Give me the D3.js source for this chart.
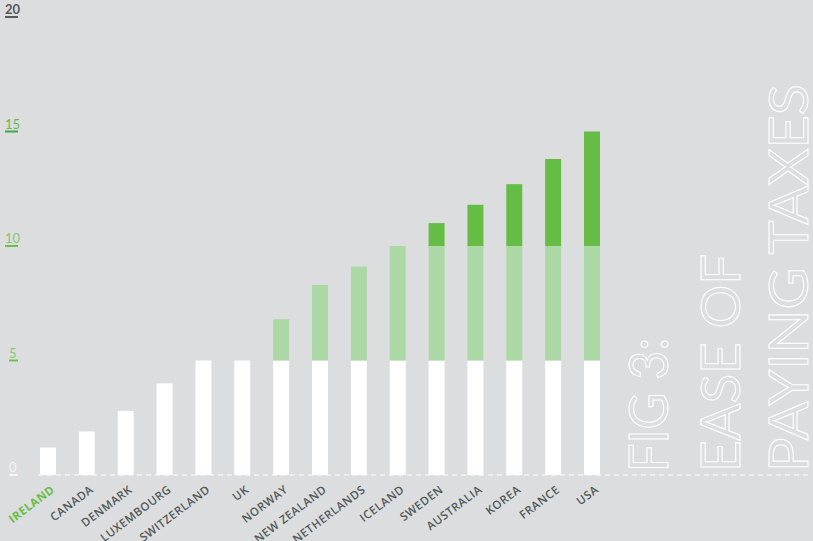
<!DOCTYPE html>
<html>
<head>
<meta charset="utf-8">
<script src="https://cdn.jsdelivr.net/npm/d3@7"></script>
<style>
  html, body { margin: 0; padding: 0; background: #dcdddf; }
  svg { display: block; }
</style>
</head>
<body>
<svg id="chart" width="813" height="541"></svg>
<script>
// Ease of paying taxes: score per country
const countries = ["IRELAND", "CANADA", "DENMARK", "LUXEMBOURG", "SWITZERLAND", "UK", "NORWAY",
  "NEW ZEALAND", "NETHERLANDS", "ICELAND", "SWEDEN", "AUSTRALIA", "KOREA", "FRANCE", "USA"];
const scores = [1.2, 1.9, 2.8, 4.0, 5.0, 5.0, 6.8, 8.3, 9.1, 10.0, 11.0, 11.8, 12.7, 13.8, 15.0];

// Score bands, each shaded differently inside the bar
const bandLimits = [0, 5, 10, 20];
const bandColors = ["#ffffff", "#acd8a5", "#65bd45"];

// Axis ticks and their label colours
const tickValues = [0, 5, 10, 15, 20];
const tickColors = ["#f4f4f4", "#86c878", "#86c878", "#5fba4f", "#58595b"];
const tickRuleColors = ["#f4f4f4", "#6cc04a", "#6cc04a", "#3daa4a", "#58595b"];

const titleLines = ["FIG 3:", "EASE OF", "PAYING TAXES"];
const titleLengths = [134, 218, 388];

const svg = d3.select("#chart");

const x = d3.scalePoint().domain(countries).range([48, 592]);
const y = d3.scaleLinear().domain([0, 20]).range([475, 17]);
const barW = 16;

// Dashed baseline
svg.append("line")
  .attr("x1", 38).attr("x2", 808)
  .attr("y1", y(0)).attr("y2", y(0))
  .attr("stroke", "#ffffff").attr("stroke-width", 1)
  .attr("stroke-dasharray", "5,4");

// Stacked band segments for each bar
const segs = [];
countries.forEach((c, i) => {
  const v = scores[i];
  for (let b = 0; b < bandColors.length; b++) {
    const lo = bandLimits[b], hi = Math.min(v, bandLimits[b + 1]);
    if (hi > lo) segs.push({ c, lo, hi, color: bandColors[b] });
  }
});
svg.append("g").selectAll("rect").data(segs).join("rect")
  .attr("x", d => x(d.c) - barW / 2)
  .attr("width", barW)
  .attr("y", d => y(d.hi))
  .attr("height", d => y(d.lo) - y(d.hi))
  .attr("fill", d => d.color);

// Y tick labels, underlined at their value
const ticks = svg.append("g").selectAll("g").data(tickValues).join("g")
  .attr("transform", d => `translate(0,${y(d)})`);
ticks.append("text")
  .attr("x", d => d >= 10 ? 5 : 9)
  .attr("y", -3)
  .attr("font-family", "Lato, 'Open Sans', sans-serif")
  .attr("font-size", 13)
  .attr("font-weight", (d, i) => i === 4 ? 700 : 400)
  .attr("fill", (d, i) => tickColors[i])
  .text(d => d);
ticks.append("line")
  .attr("x1", d => d >= 10 ? 5 : 9)
  .attr("x2", 18)
  .attr("y1", 0).attr("y2", 0)
  .attr("stroke", (d, i) => tickRuleColors[i])
  .attr("stroke-width", 2);

// Rotated country labels
svg.append("g").selectAll("text").data(countries).join("text")
  .attr("transform", d => `translate(${x(d) + 5},${488}) rotate(-37)`)
  .attr("text-anchor", "end")
  .attr("dy", "0.35em")
  .attr("font-family", "'Open Sans', sans-serif")
  .attr("font-size", 11.5)
  .attr("letter-spacing", 0.5)
  .attr("font-weight", d => d === "IRELAND" ? 700 : 600)
  .attr("fill", d => d === "IRELAND" ? "#6abd45" : "#515958")
  .text(d => d);

// Outlined vertical title
const titleX = [668, 740, 808];
svg.append("g").selectAll("text").data(titleLines).join("text")
  .attr("transform", (d, i) => `translate(${titleX[i]},472) rotate(-90)`)
  .attr("font-family", "Lato, 'Open Sans', sans-serif")
  .attr("font-weight", 400)
  .attr("font-size", 55)
  .attr("textLength", (d, i) => titleLengths[i])
  .attr("lengthAdjust", "spacingAndGlyphs")
  .attr("fill", "none")
  .attr("stroke", "#ffffff")
  .attr("stroke-width", 1.1)
  .text(d => d);
</script>
</body>
</html>
